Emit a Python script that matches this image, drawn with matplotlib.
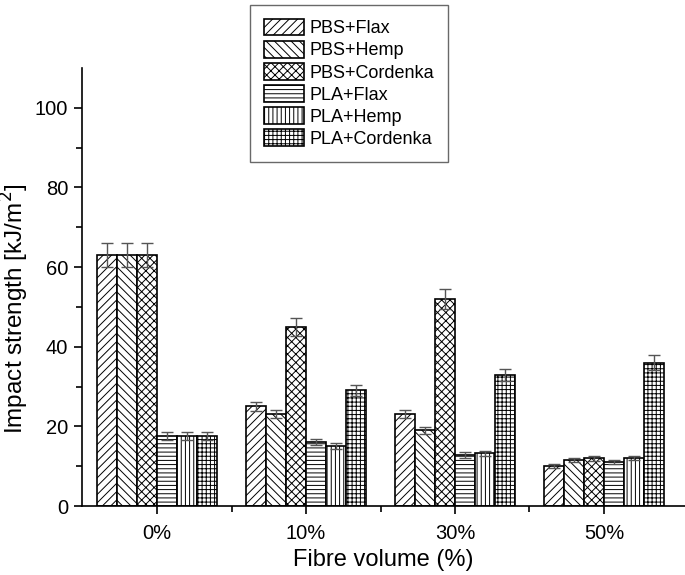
import matplotlib.pyplot as plt
import numpy as np

plt.rcParams['font.family'] = ['Liberation Sans', 'DejaVu Sans']
plt.rcParams['hatch.linewidth'] = 0.7

# data
groups = ['0%', '10%', '30%', '50%']
series = ['PBS+Flax', 'PBS+Hemp', 'PBS+Cordenka', 'PLA+Flax', 'PLA+Hemp', 'PLA+Cordenka']
values = [
    [63, 25, 23, 10],
    [63, 23, 19, 11.5],
    [63, 45, 52, 12],
    [17.5, 16, 12.8, 11],
    [17.5, 15, 13.2, 12],
    [17.5, 29, 33, 36],
]
errors = [
    [3, 1.2, 1.0, 0.5],
    [3, 1.0, 0.8, 0.5],
    [3, 2.2, 2.5, 0.6],
    [1, 0.8, 0.7, 0.5],
    [1, 0.8, 0.6, 0.5],
    [1, 1.4, 1.5, 1.8],
]
hatches = ['////', '\\\\\\\\', 'xxxx', '----', '||||', '++++']

fig = plt.figure(figsize=(6.85, 5.75), dpi=100)
ax = fig.add_axes([0.12, 0.12, 0.88, 0.762])

x = np.arange(len(groups))
w = 0.134
for i in range(len(series)):
    pos = x + (i - 2.5) * w
    ax.bar(pos, values[i], width=w, color='white', edgecolor='black',
           linewidth=1.2, hatch=hatches[i], label=series[i])
    ax.errorbar(pos, values[i], yerr=errors[i], fmt='none', ecolor='#555555',
                elinewidth=1.0, capsize=4, capthick=1.0)

ax.set_xlim(-0.503, 3.544)
ax.set_ylim(0, 110)
ax.set_xticks(x)
ax.set_xticklabels(groups)
ax.set_xticks(x[:-1] + 0.5, minor=True)
ax.set_yticks([0, 20, 40, 60, 80, 100])
ax.set_yticks([10, 30, 50, 70, 90], minor=True)
ax.tick_params(axis='both', which='major', direction='out', length=6, width=1.2,
               labelsize=14.5)
ax.tick_params(axis='x', which='major', pad=7)
ax.tick_params(axis='y', which='major', pad=4)
ax.tick_params(axis='both', which='minor', direction='out', length=4, width=1.2)

for s in ['top', 'right']:
    ax.spines[s].set_visible(False)
for s in ['left', 'bottom']:
    ax.spines[s].set_linewidth(1.2)

ax.set_xlabel('Fibre volume (%)', fontsize=17, labelpad=4)
ax.set_ylabel('Impact strength [kJ/m$^2$]', fontsize=17.5)
ax.yaxis.set_label_coords(-0.085, 0.45)

leg = ax.legend(loc='upper left', bbox_to_anchor=(0.365, 0.991), bbox_transform=fig.transFigure,
                fontsize=13, fancybox=False, edgecolor='#444444', handlelength=2.25,
                handleheight=1.05, labelspacing=0.2, handletextpad=0.3, borderpad=0.75,
                borderaxespad=0)
leg.get_frame().set_linewidth(1.0)

fig.savefig('out.png', dpi=100)
